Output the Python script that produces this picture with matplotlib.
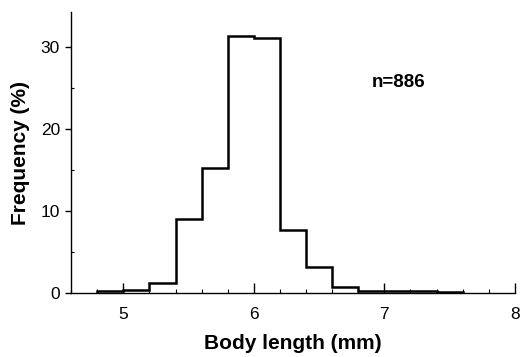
import numpy as np
import matplotlib.pyplot as plt
from matplotlib.ticker import MultipleLocator

plt.rcParams['font.family'] = ['Liberation Sans', 'DejaVu Sans']

# bin edges (mm) and frequencies (%)
edges = [4.8, 5.0, 5.2, 5.4, 5.6, 5.8, 6.0, 6.2, 6.4, 6.6, 6.8, 7.0, 7.2, 7.4, 7.6]
freq = [0.3, 0.35, 1.2, 9.0, 15.2, 31.3, 31.1, 7.7, 3.2, 0.8, 0.3, 0.2, 0.25, 0.15]

fig = plt.figure(figsize=(5.27, 3.57), dpi=100)
ax = fig.add_axes([0.135, 0.179, 0.842, 0.787])

ax.stairs(freq, edges, color='black', linewidth=1.8, baseline=0)

ax.set_xlim(4.6, 8.0)
ax.set_ylim(0, 34.2)
ax.xaxis.set_major_locator(MultipleLocator(1))
ax.xaxis.set_minor_locator(MultipleLocator(0.2))
ax.yaxis.set_major_locator(MultipleLocator(10))
ax.yaxis.set_minor_locator(MultipleLocator(5))
ax.tick_params(axis='x', which='major', direction='in', length=7, width=1, labelsize=12.5, pad=10)
ax.tick_params(axis='x', which='minor', direction='in', length=3, width=0.8)
ax.tick_params(axis='y', which='major', direction='out', length=4, width=1, labelsize=12.5, pad=4)
ax.tick_params(axis='y', which='minor', direction='in', length=2, width=0.8)

for s in ['top', 'right']:
    ax.spines[s].set_visible(False)
for s in ['left', 'bottom']:
    ax.spines[s].set_linewidth(1.0)

ax.set_xlabel('Body length (mm)', fontsize=15, fontweight='bold', labelpad=9)
ax.set_ylabel('Frequency (%)', fontsize=15, fontweight='bold', labelpad=8)
ax.text(7.11, 25.6, 'n=886', fontsize=13.5, fontweight='bold', ha='center', va='center')

fig.savefig('out.png', dpi=100)
